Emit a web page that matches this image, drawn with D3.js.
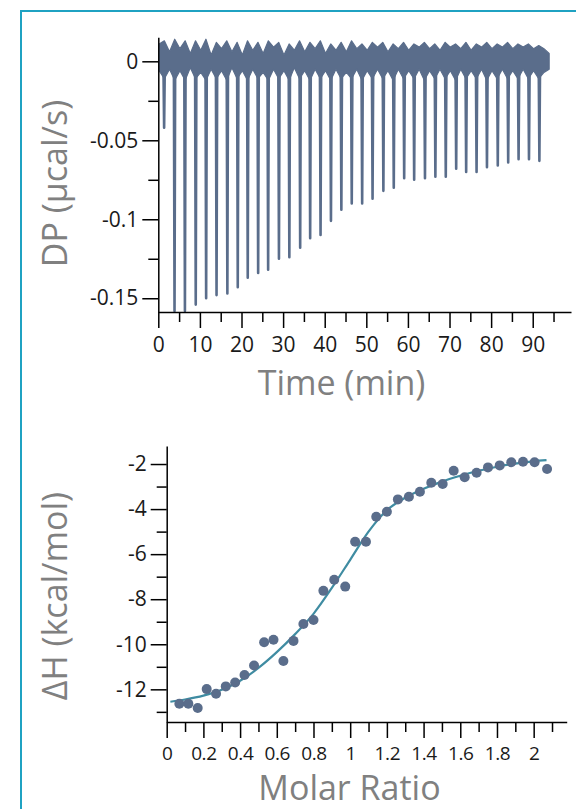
<!DOCTYPE html>
<html lang="en">
<head>
    <meta charset="UTF-8">
    <title>ITC - DP trace and binding isotherm</title>
    <script src="https://d3js.org/d3.v7.min.js"></script>
    <style>
        body { margin: 0; background: #fff; }
        svg { display: block; font-family: "Open Sans", "Noto Sans", sans-serif; }
        .tick text { font-family: "Open Sans", "Noto Sans", sans-serif; font-size: 21px; fill: #1a1a1a; }
        .ratio-axis .tick text { font-size: 19px; letter-spacing: -0.4px; }
        .axis-title { font-size: 34px; fill: #808080; }
    </style>
</head>
<body>
    <svg id="chart" width="576" height="809"></svg>

    <script>
        // ---- raw thermogram: injections ----
        const injTime = [1.4, 3.9, 6.4, 9.0, 11.5, 14.0, 16.6, 19.1, 21.5, 24.0,
                         26.4, 29.0, 31.5, 34.1, 36.5, 39.0, 41.5, 44.0, 46.5, 49.0,
                         51.5, 54.1, 56.6, 59.1, 61.5, 64.1, 66.6, 69.1, 71.6, 74.0,
                         76.5, 79.0, 81.6, 84.1, 86.6, 89.1, 91.6];
        const injPeak = [-0.042, -0.158, -0.158, -0.154, -0.150, -0.148, -0.147, -0.143, -0.137, -0.134,
                         -0.132, -0.125, -0.124, -0.118, -0.112, -0.110, -0.101, -0.094, -0.090, -0.090,
                         -0.087, -0.082, -0.080, -0.074, -0.075, -0.074, -0.073, -0.073, -0.068, -0.070,
                         -0.070, -0.067, -0.066, -0.064, -0.062, -0.062, -0.063];

        // baseline noise band (upper / lower edge), sampled every 1.25 min from 0.2 min
        const bandStart = 0.2, bandStep = 1.25;
        const bandTop = [0.011, 0.013, 0.006, 0.014, 0.008, 0.013, 0.005, 0.013, 0.007, 0.014,
                         0.004, 0.012, 0.008, 0.013, 0.006, 0.012, 0.004, 0.013, 0.007, 0.012,
                         0.005, 0.013, 0.009, 0.012, 0.004, 0.011, 0.007, 0.013, 0.006, 0.012,
                         0.008, 0.013, 0.005, 0.011, 0.007, 0.012, 0.006, 0.013, 0.008, 0.011,
                         0.007, 0.012, 0.009, 0.012, 0.006, 0.011, 0.008, 0.012, 0.007, 0.011,
                         0.009, 0.012, 0.008, 0.011, 0.007, 0.012, 0.009, 0.011, 0.008, 0.012,
                         0.007, 0.011, 0.009, 0.012, 0.008, 0.011, 0.009, 0.012, 0.008, 0.011,
                         0.009, 0.011, 0.008, 0.010, 0.008, 0.005];
        const bandBottom = [-0.006, -0.011, -0.005, -0.012, -0.006, -0.012, -0.004, -0.011, -0.007, -0.012,
                            -0.005, -0.011, -0.006, -0.012, -0.004, -0.011, -0.006, -0.012, -0.005, -0.011,
                            -0.007, -0.012, -0.005, -0.011, -0.006, -0.012, -0.004, -0.011, -0.006, -0.012,
                            -0.005, -0.011, -0.006, -0.012, -0.005, -0.011, -0.007, -0.011, -0.005, -0.012,
                            -0.006, -0.011, -0.005, -0.011, -0.006, -0.012, -0.005, -0.011, -0.006, -0.011,
                            -0.005, -0.012, -0.006, -0.011, -0.005, -0.011, -0.006, -0.012, -0.005, -0.011,
                            -0.006, -0.011, -0.005, -0.012, -0.006, -0.011, -0.005, -0.011, -0.006, -0.011,
                            -0.005, -0.011, -0.006, -0.011, -0.007, -0.005];

        const timeMajor = [0, 10, 20, 30, 40, 50, 60, 70, 80, 90];
        const timeMinor = [5, 15, 25, 35, 45, 55, 65, 75, 85, 95];
        const dpMajor = [0, -0.05, -0.1, -0.15];
        const dpMinor = [-0.025, -0.075, -0.125];

        // ---- integrated heats ----
        const molarRatio = [0.069, 0.118, 0.169, 0.218, 0.269, 0.322, 0.373, 0.424, 0.476, 0.531,
                            0.582, 0.636, 0.691, 0.745, 0.800, 0.854, 0.913, 0.973, 1.027, 1.086,
                            1.142, 1.200, 1.260, 1.320, 1.380, 1.442, 1.504, 1.564, 1.624, 1.689,
                            1.751, 1.815, 1.878, 1.942, 2.005, 2.073];
        const deltaH = [-12.64, -12.64, -12.83, -11.99, -12.20, -11.87, -11.70, -11.36, -10.94, -9.91,
                        -9.80, -10.74, -9.85, -9.10, -8.92, -7.63, -7.14, -7.44, -5.45, -5.45,
                        -4.34, -4.12, -3.57, -3.45, -3.23, -2.83, -2.89, -2.30, -2.59, -2.39,
                        -2.15, -2.06, -1.92, -1.90, -1.92, -2.22];

        // fitted curve
        const fitX = [0.02, 0.1, 0.2, 0.3, 0.4, 0.5, 0.6, 0.7, 0.8, 0.9, 1.0,
                      1.1, 1.2, 1.3, 1.4, 1.5, 1.6, 1.7, 1.8, 1.9, 2.0, 2.07];
        const fitY = [-12.55, -12.45, -12.28, -12.02, -11.62, -11.05, -10.35, -9.55, -8.65, -7.50, -6.25,
                      -5.00, -4.05, -3.50, -3.10, -2.78, -2.52, -2.30, -2.12, -1.98, -1.88, -1.83];

        const ratioMajor = [0, 0.2, 0.4, 0.6, 0.8, 1, 1.2, 1.4, 1.6, 1.8, 2];
        const ratioMinor = [0.1, 0.3, 0.5, 0.7, 0.9, 1.1, 1.3, 1.5, 1.7, 1.9, 2.1];
        const dhMajor = [-2, -4, -6, -8, -10, -12];
        const dhMinor = [-3, -5, -7, -9, -11, -13];

        const traceColor = "#5a6d8b";
        const fitColor = "#3f8ca2";

        const svg = d3.select("#chart");

        // frame
        svg.append("path")
            .attr("d", "M21,820 L21,11 L590,11")
            .attr("fill", "none")
            .attr("stroke", "#1fa2c2")
            .attr("stroke-width", 2);

        function drawAxes(g, x, y, xMajor, xMinor, yMajor, yMinor, xFmt, yFmt, x0, y0, xClass) {
            // minor ticks first, then labelled majors
            g.append("g").attr("transform", `translate(0,${y0})`).attr("color", "#000")
                .call(d3.axisBottom(x).tickValues(xMinor).tickSize(10).tickSizeOuter(0).tickFormat(""))
                .call(a => a.select(".domain").remove());
            g.append("g").attr("class", xClass).attr("transform", `translate(0,${y0})`).attr("color", "#000")
                .call(d3.axisBottom(x).tickValues(xMajor).tickSize(16).tickSizeOuter(0).tickPadding(9).tickFormat(xFmt));
            g.append("g").attr("transform", `translate(${x0},0)`).attr("color", "#000")
                .call(d3.axisLeft(y).tickValues(yMinor).tickSize(10).tickSizeOuter(0).tickFormat(""))
                .call(a => a.select(".domain").remove());
            g.append("g").attr("transform", `translate(${x0},0)`).attr("color", "#000")
                .call(d3.axisLeft(y).tickValues(yMajor).tickSize(16).tickSizeOuter(0).tickPadding(4).tickFormat(yFmt));
            g.selectAll(".domain, .tick line").attr("stroke-width", 1.5);
        }

        // ================= top panel: DP vs time =================
        const xT = d3.scaleLinear().domain([0, 99.2]).range([158.3, 571]);
        const yT = d3.scaleLinear().domain([0.0152, -0.1587]).range([37.3, 312]);
        const topPanel = svg.append("g");

        const band = bandTop.map((v, i) => ({ t: bandStart + i * bandStep, hi: v, lo: bandBottom[i] }));
        topPanel.append("path")
            .datum(band)
            .attr("d", d3.area().x(d => xT(d.t)).y0(d => yT(d.lo)).y1(d => yT(d.hi)))
            .attr("fill", traceColor)
            .attr("stroke", traceColor)
            .attr("stroke-width", 1.2)
            .attr("stroke-linejoin", "round");

        const spikes = injTime.map((t, i) => ({ t: t, peak: injPeak[i] }));
        topPanel.selectAll(".spike")
            .data(spikes)
            .enter().append("path")
            .attr("class", "spike")
            .attr("d", d => d3.line()([
                [xT(d.t - 0.15), yT(-0.006)],
                [xT(d.t), yT(d.peak)],
                [xT(d.t + 0.15), yT(-0.006)]
            ]))
            .attr("fill", traceColor)
            .attr("stroke", traceColor)
            .attr("stroke-width", 2.6)
            .attr("stroke-linejoin", "round");

        drawAxes(topPanel, xT, yT, timeMajor, timeMinor, dpMajor, dpMinor,
            d => String(d), d => String(d), 158.3, 312, "time-axis");

        topPanel.append("text").attr("class", "axis-title")
            .attr("x", 341.5).attr("y", 395)
            .attr("text-anchor", "middle")
            .text("Time (min)");
        topPanel.append("text").attr("class", "axis-title")
            .attr("transform", "translate(67,183.5) rotate(-90)")
            .attr("text-anchor", "middle")
            .text("DP (µcal/s)");

        // ================= bottom panel: ΔH vs molar ratio =================
        const xB = d3.scaleLinear().domain([0, 2.18]).range([166.7, 566.7]);
        const yB = d3.scaleLinear().domain([-1.2, -13.45]).range([446, 722]);
        const botPanel = svg.append("g");

        botPanel.append("path")
            .datum(fitX.map((v, i) => [v, fitY[i]]))
            .attr("d", d3.line().x(d => xB(d[0])).y(d => yB(d[1])).curve(d3.curveMonotoneX))
            .attr("fill", "none")
            .attr("stroke", fitColor)
            .attr("stroke-width", 2.2);

        botPanel.selectAll("circle")
            .data(molarRatio.map((v, i) => ({ x: v, y: deltaH[i] })))
            .enter().append("circle")
            .attr("cx", d => xB(d.x))
            .attr("cy", d => yB(d.y))
            .attr("r", 5)
            .attr("fill", traceColor);

        drawAxes(botPanel, xB, yB, ratioMajor, ratioMinor, dhMajor, dhMinor,
            d => String(+d.toFixed(1)), d => String(d), 166.7, 722, "ratio-axis");

        botPanel.append("text").attr("class", "axis-title")
            .attr("x", 349.5).attr("y", 800)
            .attr("text-anchor", "middle")
            .text("Molar Ratio");
        botPanel.append("text").attr("class", "axis-title")
            .attr("transform", "translate(67,596) rotate(-90)")
            .attr("text-anchor", "middle")
            .text("ΔH (kcal/mol)");
    </script>
</body>
</html>
